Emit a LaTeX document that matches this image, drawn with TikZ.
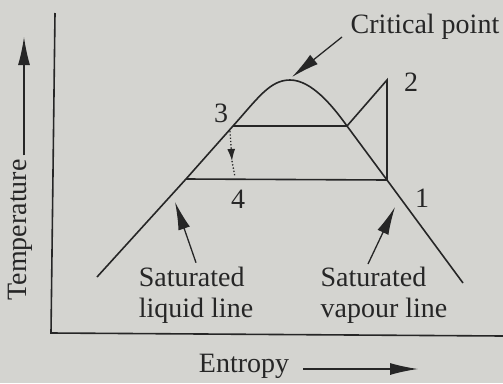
\documentclass[tikz,border=0pt]{standalone}
\usepackage{fontspec}
\setmainfont{Liberation Serif}
\usetikzlibrary{arrows.meta}
\definecolor{paper}{HTML}{D4D4D0}
\definecolor{ink}{HTML}{262626}

\begin{document}
\begin{tikzpicture}[x=1pt, y=-1pt, line width=1.6pt, color=ink,
    font=\fontsize{28}{31}\selectfont,
    pointer/.style={-{Latex[length=28pt,width=12pt]}, line width=1.3pt}]
  \fill[paper] (0,0) rectangle (503,383);
  \useasboundingbox (0,0) rectangle (503,383);

  % Axes
  \coordinate (Ytop) at (55,13);
  \coordinate (O) at (51,333);
  \coordinate (Xend) at (503,336);
  \draw (Ytop) -- (O) -- (Xend);

  % Cycle points
  \coordinate (L) at (97,277);
  \coordinate (P3) at (233,126);
  \coordinate (P4) at (186,179);
  \coordinate (G) at (347,126);
  \coordinate (P2) at (387,80);
  \coordinate (P1) at (387,180);
  \coordinate (CP) at (290,80);
  \coordinate (V) at (463,283);

  % Dome
  \draw (L) -- (P4) -- (P3) .. controls (258,98) and (270,80) .. (CP)
        .. controls (311,80) and (332,105) .. (G) -- (P1) -- (V);

  % Cycle
  \draw (P3) -- (G) -- (P2) -- (P1) -- (P4);
  \coordinate (D1) at (230,131);
  \coordinate (Dm) at (232,161);
  \coordinate (D2) at (235,177);
  \draw[dotted, line width=1.3pt, -{Latex[length=12pt,width=8pt]}] (D1) -- (Dm);
  \draw[dotted, line width=1.3pt] (Dm) -- (D2);

  % Labels
  \node (n3) at (221,113) {3};
  \node (n4) at (238,199) {4};
  \node (n1) at (422,198) {1};
  \node (n2) at (411,82) {2};
  \node (crit) at (425,27) {Critical point};
  \node[align=left] (liq) at (196,295) {Saturated\\liquid line};
  \node[align=left] (vap) at (384,295) {Saturated\\vapour line};
  \node[rotate=90] (temp) at (20,230) {Temperature};
  \node (ent) at (244,366) {Entropy};

  % Pointers
  \coordinate (critstart) at (342,37);
  \coordinate (crittip) at (292,77);
  \draw[pointer] (critstart) -- (crittip);
  \coordinate (liqtip) at (175,202);
  \draw[pointer] (liq.north) -- (liqtip);
  \coordinate (vapstart) at (368,264);
  \coordinate (vaptip) at (395,207);
  \draw[pointer] (vapstart) -- (vaptip);
  \coordinate (Ttip) at (24,37);
  \draw[pointer] (temp.east -| Ttip) -- (Ttip);
  \coordinate (Etip) at (418,369);
  \draw[pointer, shorten <=10pt] (ent.east |- Etip) -- (Etip);
\end{tikzpicture}
\end{document}
